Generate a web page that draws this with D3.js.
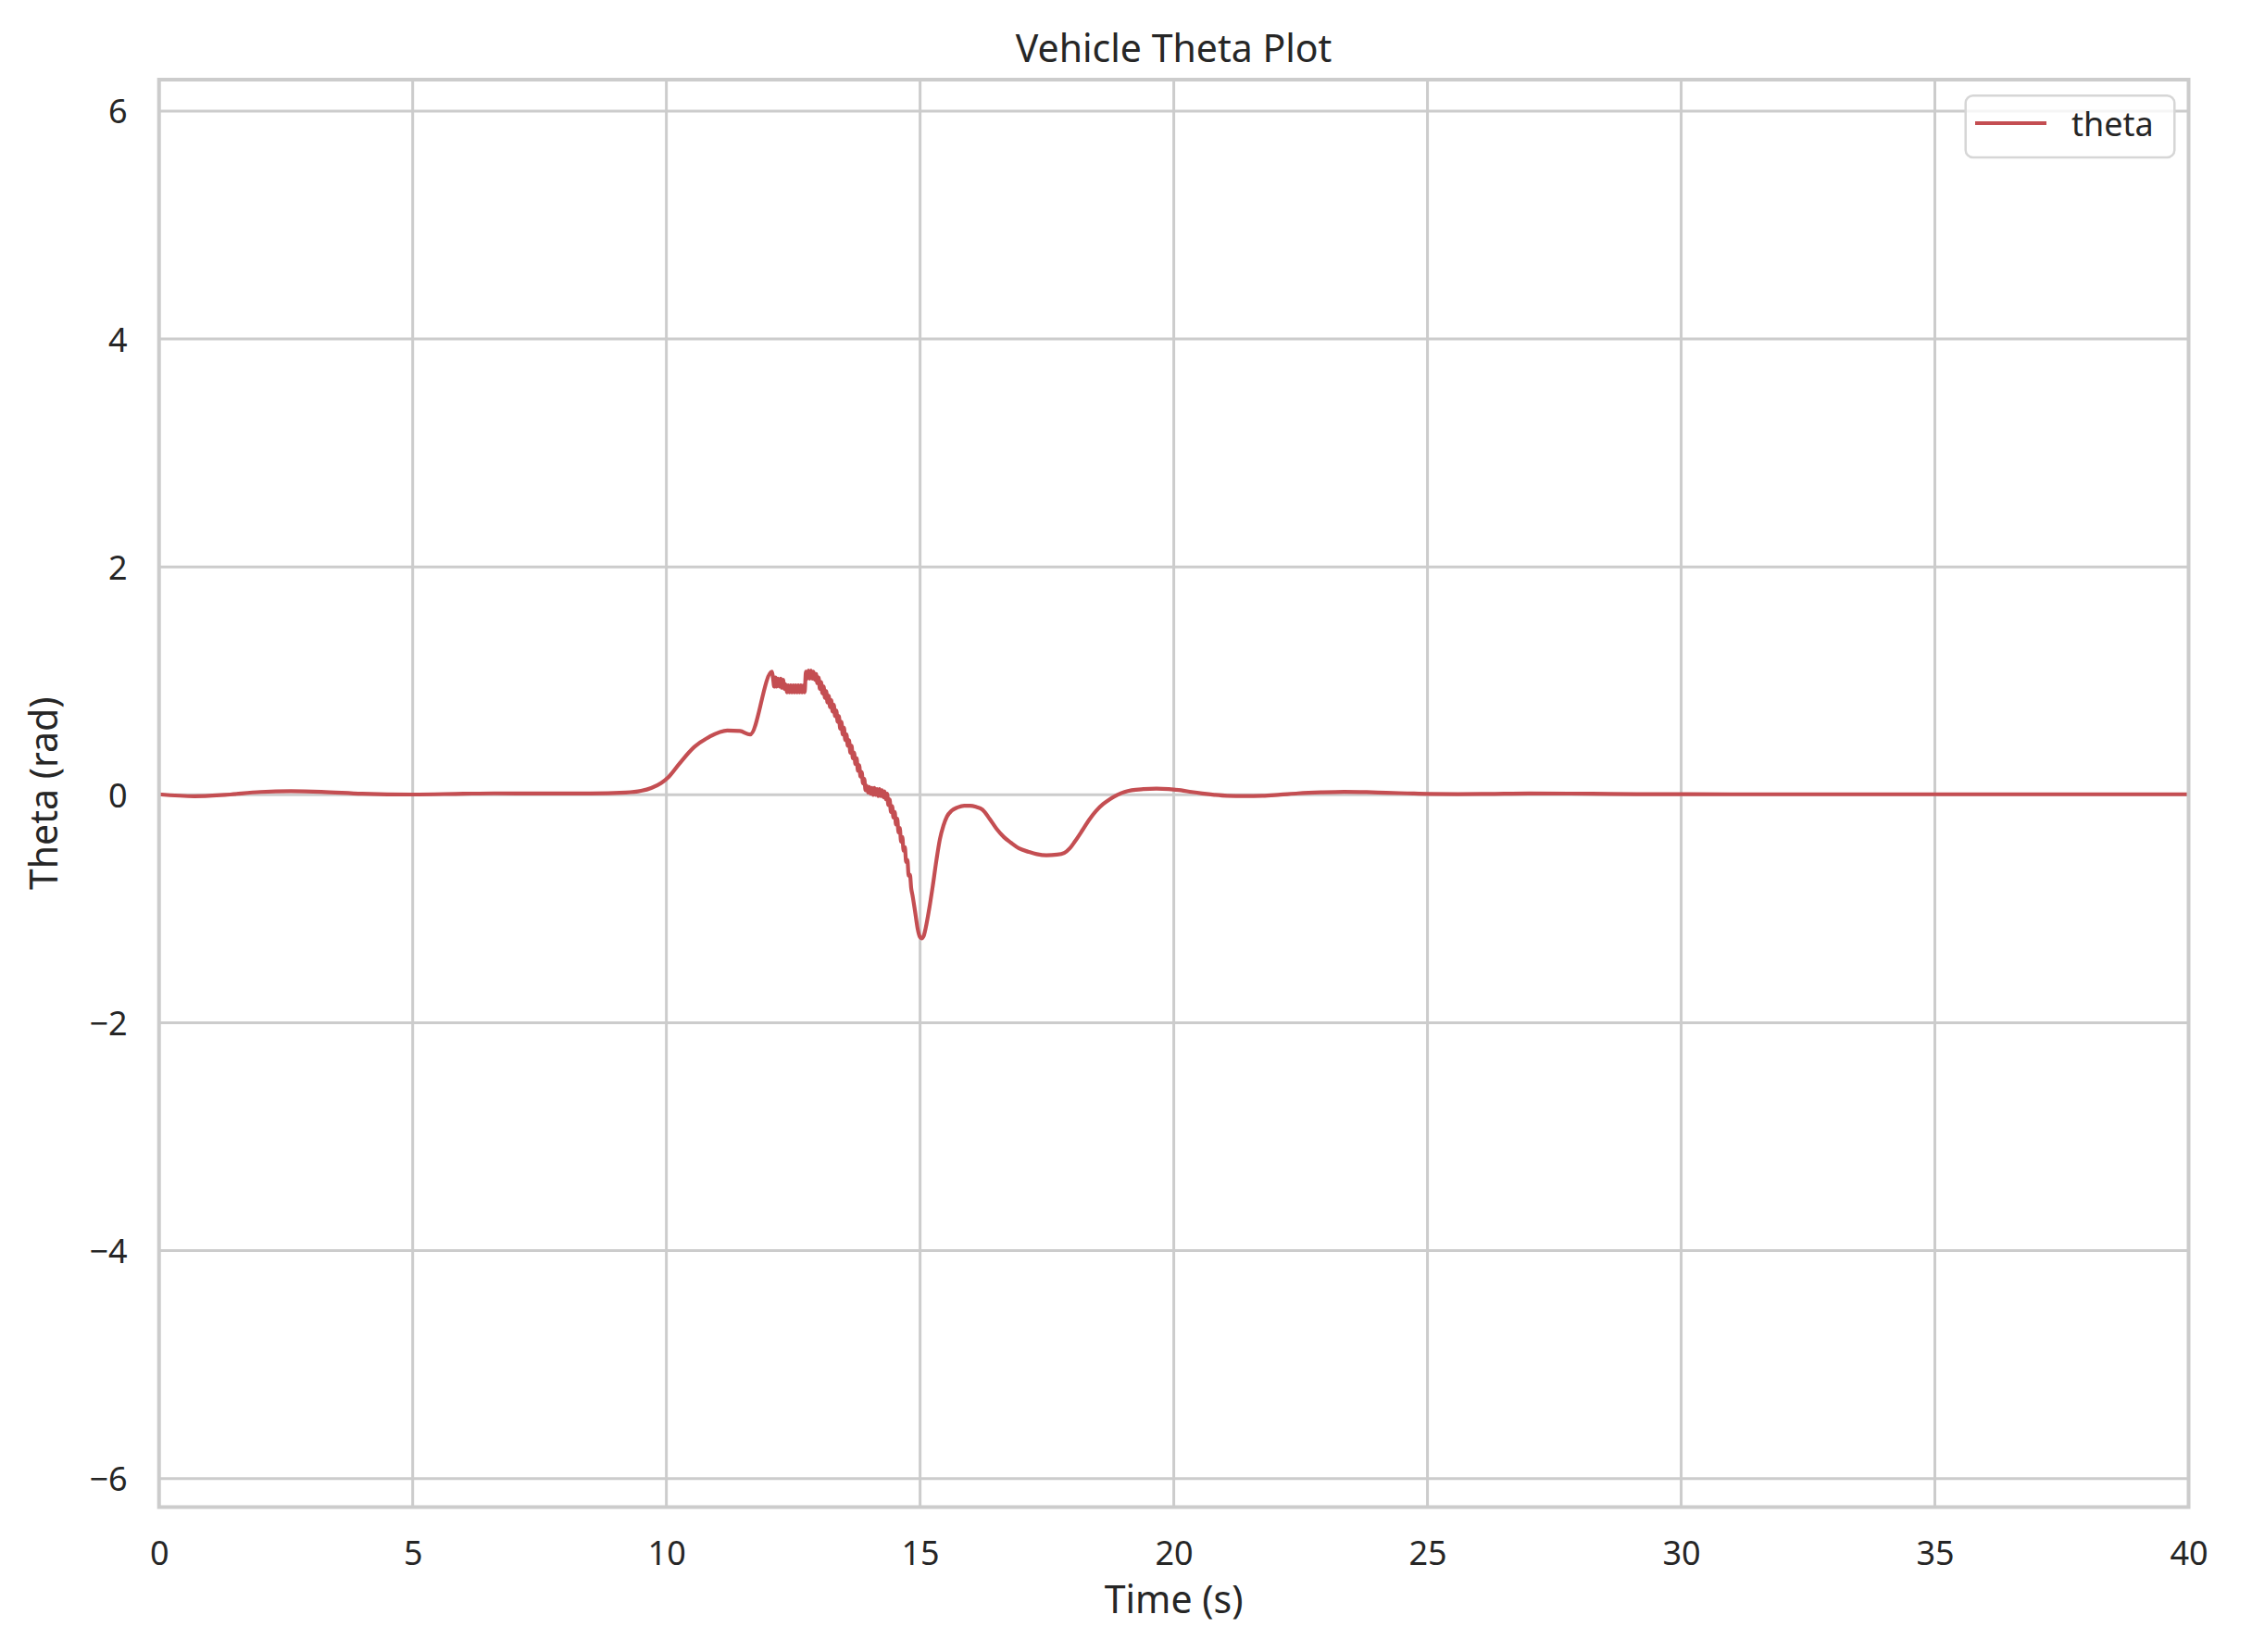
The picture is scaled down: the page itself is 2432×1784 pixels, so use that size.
<!DOCTYPE html>
<html>
<head>
<meta charset="utf-8">
<script src="https://cdn.jsdelivr.net/npm/d3@7"></script>
<style>
  html, body { margin: 0; padding: 0; background: #ffffff; }
  svg { display: block; }
  text { font-family: "Noto Sans", "Open Sans", sans-serif; fill: #262626; }
</style>
</head>
<body>
<svg id="chart" width="2432" height="1784"></svg>
<script>
// ---- data ----
const chartTitle = "Vehicle Theta Plot";
const xLabel = "Time (s)";
const yLabel = "Theta (rad)";
const seriesName = "theta";
const xTicks = [0, 5, 10, 15, 20, 25, 30, 35, 40];
const yTicks = [-6, -4, -2, 0, 2, 4, 6];

const timeValues = [
  0, 0.7, 1.3, 2.0, 2.6, 3.2, 4.0, 5.0, 6.0, 6.6, 7.5, 8.5, 9.2, 9.5, 9.7, 9.9, 10.05, 10.25, 10.55, 10.85, 11.2, 11.45, 11.65,
  12.08, 12.100, 12.125, 12.150, 12.175, 12.200, 12.225, 12.250, 12.275, 12.300, 12.325, 12.350,
  12.375, 12.400, 12.425, 12.450, 12.475, 12.500, 12.525, 12.550, 12.575, 12.600, 12.625, 12.650, 12.675, 12.700, 12.725,
  12.750, 12.775, 12.800, 12.825, 12.850, 12.875, 12.900, 12.925, 12.950, 12.975,
  13.000, 13.025, 13.050, 13.075, 13.100, 13.125, 13.150, 13.175, 13.200, 13.225, 13.250, 13.275, 13.300, 13.325, 13.350, 13.375,
  13.400, 13.425, 13.450, 13.475, 13.500, 13.525, 13.550, 13.575, 13.600, 13.625, 13.650, 13.675, 13.700, 13.725, 13.750, 13.775,
  13.800, 13.825, 13.850, 13.875, 13.900, 13.925, 13.950, 13.975, 14.000, 14.025, 14.050, 14.075, 14.100, 14.125, 14.150, 14.175,
  14.200, 14.225, 14.250, 14.275, 14.300, 14.325, 14.350, 14.375, 14.400, 14.425, 14.450, 14.475, 14.500, 14.525, 14.550, 14.575,
  14.600, 14.625, 14.650, 14.675, 14.700, 14.725, 14.750, 14.775, 14.800, 14.825, 14.850, 14.90, 14.95, 15.00, 15.03,
  15.07, 15.11, 15.18, 15.25, 15.32, 15.39, 15.46, 15.53, 15.62, 15.74, 15.87, 15.99, 16.1, 16.23, 16.37, 16.51, 16.65, 16.79, 16.95, 17.14, 17.3, 17.49, 17.7, 17.84,
  17.95, 18.05, 18.2, 18.33, 18.47, 18.61, 18.75, 18.89, 19.03, 19.17, 19.4, 19.66, 19.9, 20.14, 20.35, 20.56, 20.8, 21.05, 21.4, 21.75, 22.1, 22.45, 22.9, 23.36,
  23.8, 24.19, 24.6, 25.03, 25.6, 26.2, 27.0, 27.8, 28.6, 29.5, 31, 33, 35, 37, 40
];
const thetaValues = [
  0.005, -0.012, 0.0, 0.025, 0.032, 0.027, 0.01, 0.003, 0.01, 0.013, 0.012, 0.012, 0.02, 0.035, 0.06, 0.105, 0.16, 0.27, 0.42, 0.51, 0.565, 0.56, 0.53,
  1.08, 1.03, 0.95, 1.03, 0.95, 1.02, 0.95, 1.02, 0.94, 1.01, 0.93, 0.97,
  0.90, 0.96, 0.90, 0.96, 0.90, 0.96, 0.90, 0.96, 0.90, 0.96, 0.90, 0.96, 0.90, 0.96, 0.90,
  1.08, 1.02, 1.09, 1.02, 1.09, 1.02, 1.08, 1.01, 1.06, 0.98,
  1.03, 0.93, 0.99, 0.89, 0.95, 0.85, 0.91, 0.81, 0.87, 0.77, 0.83, 0.73, 0.79, 0.69, 0.74, 0.64,
  0.69, 0.58, 0.64, 0.53, 0.59, 0.48, 0.53, 0.43, 0.48, 0.37, 0.43, 0.32, 0.37, 0.27, 0.32, 0.21,
  0.26, 0.16, 0.20, 0.10, 0.14, 0.04, 0.08, 0.02, 0.07, 0.01, 0.06, 0.00, 0.06, 0.00, 0.05, -0.01,
  0.05, -0.01, 0.04, -0.02, 0.03, -0.04, 0.01, -0.09, -0.04, -0.15, -0.10, -0.20, -0.15, -0.26, -0.21, -0.33,
  -0.29, -0.41, -0.37, -0.49, -0.46, -0.59, -0.57, -0.71, -0.70, -0.82, -0.88, -1.02, -1.17, -1.25, -1.26,
  -1.24, -1.17, -1.00, -0.80, -0.58, -0.39, -0.27, -0.19, -0.14, -0.11, -0.095, -0.095, -0.105, -0.13, -0.21, -0.30, -0.37, -0.42, -0.47, -0.50, -0.52, -0.53, -0.525, -0.51,
  -0.47, -0.41, -0.31, -0.22, -0.14, -0.08, -0.035, 0.0, 0.025, 0.04, 0.05, 0.054, 0.05, 0.04, 0.025, 0.012, 0.0, -0.008, -0.01, -0.008, 0.002, 0.013, 0.022, 0.027,
  0.024, 0.018, 0.013, 0.008, 0.006, 0.008, 0.012, 0.011, 0.008, 0.006, 0.005, 0.005, 0.005, 0.005, 0.005
];

// ---- layout ----
const W = 2432, H = 1784;
const plot = { left: 171.7, right: 2363.5, top: 86, bottom: 1627.5 };
const gridColor = "#cccccc";
const lineColor = "#c44e52";

const svg = d3.select("#chart");
const x = d3.scaleLinear().domain([0, 40]).range([plot.left, plot.right]);
const y = d3.scaleLinear().domain([-6.25, 6.276]).range([plot.bottom, plot.top]);

svg.append("rect").attr("width", W).attr("height", H).attr("fill", "#ffffff");

// grid
const gridG = svg.append("g");
gridG.selectAll("line.vx").data(xTicks).join("line")
  .attr("x1", d => x(d)).attr("x2", d => x(d))
  .attr("y1", plot.top).attr("y2", plot.bottom)
  .attr("stroke", gridColor).attr("stroke-width", 3);
gridG.selectAll("line.hy").data(yTicks).join("line")
  .attr("x1", plot.left).attr("x2", plot.right)
  .attr("y1", d => y(d)).attr("y2", d => y(d))
  .attr("stroke", gridColor).attr("stroke-width", 3);

// data line
svg.append("defs").append("clipPath").attr("id", "clip")
  .append("rect").attr("x", plot.left).attr("y", plot.top)
  .attr("width", plot.right - plot.left).attr("height", plot.bottom - plot.top);

const pts = timeValues.map((t, i) => [t, thetaValues[i]]);
const line = d3.line().x(d => x(d[0])).y(d => y(d[1])).curve(d3.curveMonotoneX);
svg.append("path").datum(pts)
  .attr("clip-path", "url(#clip)")
  .attr("d", line)
  .attr("fill", "none")
  .attr("stroke", lineColor)
  .attr("stroke-width", 4.2)
  .attr("stroke-linejoin", "round")
  .attr("stroke-linecap", "square");

// frame
svg.append("rect")
  .attr("x", plot.left).attr("y", plot.top)
  .attr("width", plot.right - plot.left).attr("height", plot.bottom - plot.top)
  .attr("fill", "none").attr("stroke", gridColor).attr("stroke-width", 4);

// axes tick labels via d3 axes
const fmt = d => (d < 0 ? "\u2212" + Math.abs(d) : String(d));
const xAxis = d3.axisBottom(x).tickValues(xTicks).tickSize(0).tickPadding(0).tickFormat(fmt);
const xg = svg.append("g").attr("transform", `translate(0,${plot.bottom})`).call(xAxis);
xg.select(".domain").remove();
xg.selectAll("text").attr("font-size", 36).attr("dy", null).attr("y", 62)
  .style("font-family", '"Noto Sans", sans-serif').attr("fill", "#262626");

const yAxis = d3.axisLeft(y).tickValues(yTicks).tickSize(0).tickPadding(0).tickFormat(fmt);
const yg = svg.append("g").attr("transform", `translate(${plot.left},0)`).call(yAxis);
yg.select(".domain").remove();
yg.selectAll("text").attr("font-size", 36).attr("x", -34).attr("dy", "0.36em")
  .style("font-family", '"Noto Sans", sans-serif').attr("fill", "#262626");

// title & labels
const cx = (plot.left + plot.right) / 2;
svg.append("text").attr("x", cx).attr("y", 67).attr("text-anchor", "middle")
  .attr("font-size", 41).text(chartTitle);
svg.append("text").attr("x", cx).attr("y", 1741.5).attr("text-anchor", "middle")
  .attr("font-size", 41).text(xLabel);
svg.append("text").attr("transform", `translate(62,${(plot.top + plot.bottom) / 2}) rotate(-90)`)
  .attr("text-anchor", "middle").attr("font-size", 41).text(yLabel);

// legend
const lg = svg.append("g");
lg.append("rect").attr("x", 2122.7).attr("y", 103.3).attr("width", 225.6).attr("height", 66.7)
  .attr("rx", 8).attr("ry", 8)
  .attr("fill", "#ffffff").attr("fill-opacity", 0.8)
  .attr("stroke", "#d6d6d6").attr("stroke-width", 2.5);
lg.append("line").attr("x1", 2133).attr("x2", 2210).attr("y1", 133).attr("y2", 133)
  .attr("stroke", lineColor).attr("stroke-width", 4.2);
lg.append("text").attr("x", 2237).attr("y", 147).attr("font-size", 36).text(seriesName);
</script>
</body>
</html>
